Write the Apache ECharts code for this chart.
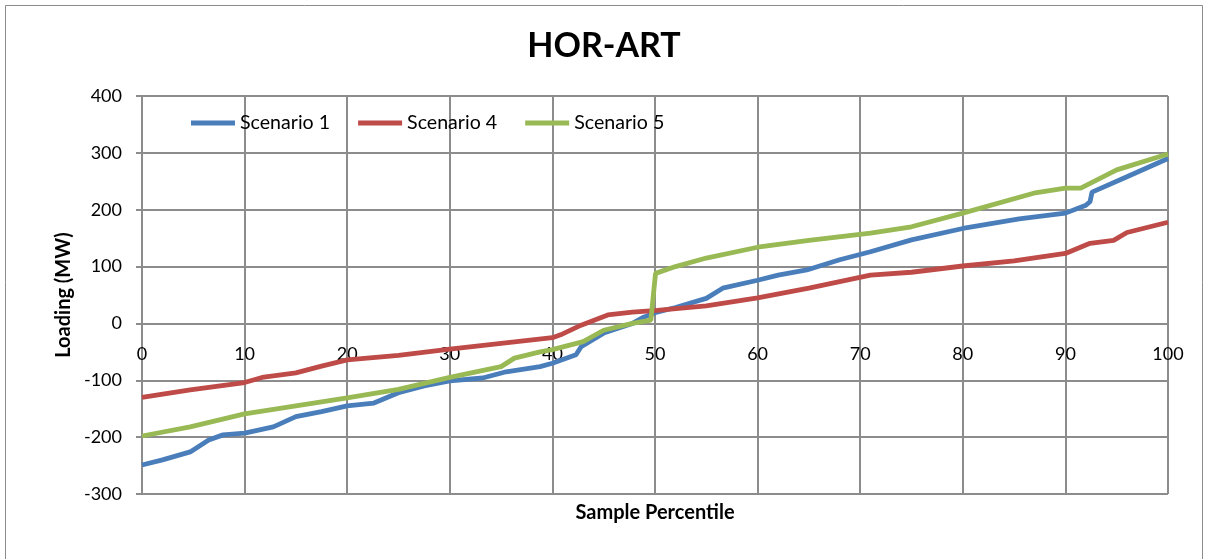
<!DOCTYPE html>
<html>
<head>
<meta charset="utf-8">
<title>HOR-ART</title>
<script src="https://cdn.jsdelivr.net/npm/echarts@6/dist/echarts.min.js"></script>
<style>
    html, body { margin: 0; padding: 0; background: #fff; }
    #chart { width: 1208px; height: 559px; }
</style>
</head>
<body>
<div id="chart"></div>
<script>
// sample percentile / loading (MW)
const pct1 = [0, 2, 4.7, 6.5, 7.9, 10, 12.8, 15, 17.5, 20, 22.6, 25, 27.5, 30, 33.2, 35.5, 38.8, 40, 42.3, 42.8, 45, 47.8, 48.9, 50.2, 52, 55, 56.6, 60, 62, 64.8, 68, 71, 75, 80, 85.5, 90, 92, 92.4, 92.6, 96, 100];
const load1 = [-249, -240, -226, -205, -196, -193, -182, -164, -155, -145, -140, -122, -110, -101, -96, -85, -76, -70, -55, -41, -17, 0, 11, 20, 28, 44, 62, 76, 85, 94, 112, 126, 147, 167, 184, 194, 208, 214, 231, 258, 290];

const pct4 = [0, 4.7, 10, 11.7, 15, 17.5, 20, 25, 30, 35, 40, 40.8, 42.8, 45.4, 47.8, 50.2, 55, 60, 65, 71, 75, 80, 85, 90, 92.4, 94.7, 96, 100];
const load4 = [-130, -117, -104, -95, -87, -75, -64, -56, -45, -35, -25, -20, -3, 15, 20, 23, 31, 45, 62, 85, 90, 101, 110, 123, 141, 146, 160, 178];

const pct5 = [0, 4.7, 10, 15, 20, 25, 30, 35, 36.3, 38.8, 40, 43, 45, 47.8, 49.6, 50.05, 52, 55, 60, 65, 71, 75, 80, 86.9, 90, 91.5, 95, 100];
const load5 = [-198, -182, -159, -145, -131, -116, -95, -76, -61, -50, -46, -32, -12, 0, 6, 88, 100, 115, 134, 146, 159, 170, 194, 229, 238, 238, 270, 298];

const seriesNames = ['Scenario 1', 'Scenario 4', 'Scenario 5'];
const seriesColors = ['#4a7ebb', '#be4b48', '#98b954'];

const FONT = 'Lato';
const GRID_COLOR = '#8c8c8c';

// plot box, so the x labels can sit on the zero line like in Excel
const GRID_TOP = 96, GRID_BOTTOM = 65, Y_MIN = -300, Y_MAX = 400;
const plotH = 559 - GRID_TOP - GRID_BOTTOM;
const zeroOffset = plotH * (0 - Y_MIN) / (Y_MAX - Y_MIN);

function pairs(xs, ys) {
    return xs.map((x, i) => [x, ys[i]]);
}

const chart = echarts.init(document.getElementById('chart'));

const data = [pairs(pct1, load1), pairs(pct4, load4), pairs(pct5, load5)];

chart.setOption({
    animation: false,
    textStyle: { fontFamily: FONT, color: '#000' },
    title: {
        text: 'HOR-ART',
        left: 'center',
        top: 24,
        textStyle: { fontFamily: FONT, fontSize: 34, fontWeight: 'bold', color: '#000' }
    },
    graphic: [{
        type: 'rect',
        shape: { x: 5.5, y: 5.5, width: 1197, height: 600 },
        style: { fill: 'none', stroke: '#8c8c8c', lineWidth: 1 },
        silent: true
    }, {
        type: 'text',
        x: 655,
        y: 513,
        style: {
            text: 'Sample Percentile',
            font: 'bold 20px Lato',
            fill: '#000',
            align: 'center',
            verticalAlign: 'middle'
        },
        silent: true
    }],
    legend: {
        left: 186,
        top: 108,
        icon: 'rect',
        itemWidth: 44,
        itemHeight: 5,
        itemGap: 28,
        textStyle: { fontFamily: FONT, fontSize: 19.6, color: '#000' },
        data: seriesNames
    },
    grid: { left: 142, right: 40, top: GRID_TOP, bottom: GRID_BOTTOM, containLabel: false },
    xAxis: {
        type: 'value',
        min: 0,
        max: 100,
        interval: 10,
        offset: -zeroOffset,
        axisLine: { onZero: false, lineStyle: { color: GRID_COLOR, width: 2 } },
        axisTick: { show: false },
        axisLabel: { fontFamily: FONT, fontSize: 18, color: '#000', margin: 22 },
        splitLine: { show: true, lineStyle: { color: GRID_COLOR, width: 2 } }
    },
    yAxis: {
        type: 'value',
        min: Y_MIN,
        max: Y_MAX,
        interval: 100,
        name: 'Loading (MW)',
        nameLocation: 'middle',
        nameGap: 67,
        nameRotate: 90,
        nameTextStyle: { fontFamily: FONT, fontSize: 20, fontWeight: 'bold', color: '#000' },
        axisLine: { show: true, lineStyle: { color: GRID_COLOR, width: 2 } },
        axisTick: { show: true, length: 6, inside: false, lineStyle: { color: GRID_COLOR, width: 2 } },
        axisLabel: { fontFamily: FONT, fontSize: 18, color: '#000', margin: 20 },
        splitLine: { show: true, lineStyle: { color: GRID_COLOR, width: 2 } }
    },
    series: seriesNames.map((name, i) => ({
        name: name,
        type: 'line',
        data: data[i],
        showSymbol: false,
        symbol: 'none',
        color: seriesColors[i],
        lineStyle: { width: 4.8, color: seriesColors[i] },
        z: 2 + i
    }))
});
</script>
</body>
</html>
